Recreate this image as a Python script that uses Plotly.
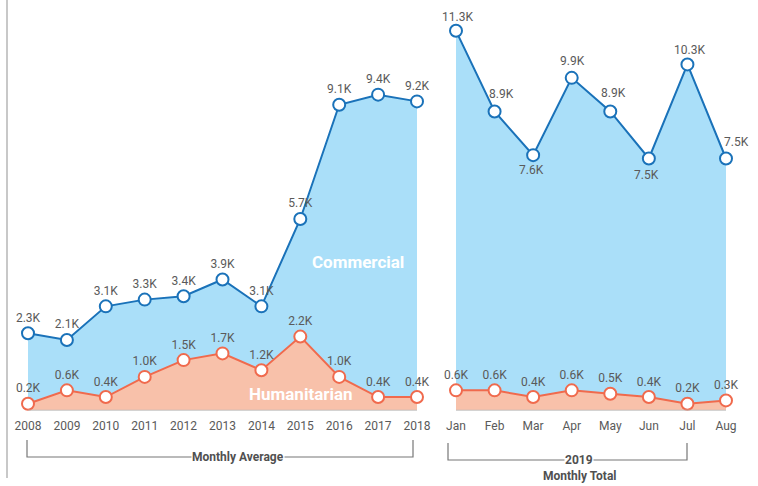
import plotly.graph_objects as go

W, H = 758, 486

years = ["2008", "2009", "2010", "2011", "2012", "2013", "2014", "2015", "2016", "2017", "2018"]
commercial_avg = [2.3, 2.1, 3.1, 3.3, 3.4, 3.9, 3.1, 5.7, 9.1, 9.4, 9.2]
humanitarian_avg = [0.2, 0.6, 0.4, 1.0, 1.5, 1.7, 1.2, 2.2, 1.0, 0.4, 0.4]

months = ["Jan", "Feb", "Mar", "Apr", "May", "Jun", "Jul", "Aug"]
commercial_2019 = [11.3, 8.9, 7.6, 9.9, 8.9, 7.5, 10.3, 7.5]
humanitarian_2019 = [0.6, 0.6, 0.4, 0.6, 0.5, 0.4, 0.2, 0.3]

# label offsets (px) for the 2019 commercial values: (xshift, yshift)
label_shift_2019 = [(1, 14), (7, 17), (-2, -15), (1, 17), (3, 18), (-2, -17), (2, 14), (10, 16)]

BLUE_LINE = "#1a72b9"
BLUE_FILL = "#aadff9"
ORANGE_LINE = "#f06a4d"
ORANGE_FILL = "#f8c1aa"
TEXT = "#5a5a5a"
FONT = "Roboto"


def px(x):
    return x / W


def py(y):
    return 1 - y / H


def fmt(vals):
    return [f"{v:.1f}K" for v in vals]


fig = go.Figure()


def add_series(x, y, xa, ya, line, fill, show_text=True):
    fig.add_trace(go.Scatter(
        x=x, y=y, xaxis=xa, yaxis=ya,
        mode="lines+markers+text" if show_text else "lines+markers",
        fill="tozeroy", fillcolor=fill,
        line=dict(color=line, width=2),
        marker=dict(size=12, color="white", line=dict(color=line, width=2)),
        text=fmt(y) if show_text else None, textposition="top center",
        textfont=dict(family=FONT, size=12, color=TEXT),
        cliponaxis=False, showlegend=False, hoverinfo="skip",
    ))


xl = list(range(len(years)))
xr = list(range(len(months)))
add_series(xl, commercial_avg, "x", "y", BLUE_LINE, BLUE_FILL)
add_series(xl, humanitarian_avg, "x", "y", ORANGE_LINE, ORANGE_FILL)
add_series(xr, commercial_2019, "x2", "y2", BLUE_LINE, BLUE_FILL, show_text=False)
add_series(xr, humanitarian_2019, "x2", "y2", ORANGE_LINE, ORANGE_FILL)

y_base, y_scale = 410.5, 33.6
y_top = 12
ydom = [py(y_base), py(y_base - y_top * y_scale)]

lx0, lx1 = 28, 417
ls = (lx1 - lx0) / (len(years) - 1)
rx0, rx1 = 456, 726
rs = (rx1 - rx0) / (len(months) - 1)

axis_common = dict(showgrid=False, zeroline=False, showline=False, ticks="",
                   ticklabelstandoff=6,
                   tickfont=dict(family=FONT, size=12, color=TEXT), fixedrange=True)

fig.update_layout(
    width=W, height=H, autosize=False,
    margin=dict(l=0, r=0, t=0, b=0),
    paper_bgcolor="white", plot_bgcolor="rgba(0,0,0,0)",
    xaxis=dict(domain=[px(lx0 - 0.5 * ls), px(lx1 + 0.5 * ls)], range=[-0.5, len(years) - 0.5],
               tickmode="array", tickvals=xl, ticktext=years, **axis_common),
    yaxis=dict(domain=ydom, range=[0, y_top], visible=False, fixedrange=True),
    xaxis2=dict(domain=[px(rx0 - 0.4 * rs), px(rx1 + 0.4 * rs)], range=[-0.4, len(months) - 0.6],
                tickmode="array", tickvals=xr, ticktext=months, anchor="y2", **axis_common),
    yaxis2=dict(domain=ydom, range=[0, y_top], visible=False, anchor="x2", fixedrange=True),
)

shapes = []
# baselines
shapes.append(dict(type="line", xref="x", yref="y", x0=0, x1=len(years) - 1, y0=0, y1=0,
                   line=dict(color="#bbbbbb", width=1.5)))
shapes.append(dict(type="line", xref="x2", yref="y2", x0=0, x1=len(months) - 1, y0=0, y1=0,
                   line=dict(color="#bbbbbb", width=1.5)))
# left vertical divider
shapes.append(dict(type="line", xref="paper", yref="paper", x0=px(7), x1=px(7), y0=py(0), y1=py(478),
                   line=dict(color="#c8c8c8", width=2)))
BR = "#777777"
# left bracket
shapes.append(dict(type="path", xref="paper", yref="paper",
                   path=f"M {px(27)},{py(440)} L {px(27)},{py(457)} L {px(413)},{py(457)} L {px(413)},{py(440)}",
                   line=dict(color=BR, width=1.2)))
# right bracket
shapes.append(dict(type="path", xref="paper", yref="paper",
                   path=f"M {px(448)},{py(443)} L {px(448)},{py(460)} L {px(687)},{py(460)} L {px(687)},{py(443)}",
                   line=dict(color=BR, width=1.2)))
fig.update_layout(shapes=shapes)

ann = []
for i, (v, (dx, dy)) in enumerate(zip(commercial_2019, label_shift_2019)):
    ann.append(dict(xref="x2", yref="y2", x=xr[i], y=v, text=f"{v:.1f}K", showarrow=False,
                    xshift=dx, yshift=dy, xanchor="center", yanchor="middle",
                    font=dict(family=FONT, size=12, color=TEXT)))
ann.append(dict(xref="paper", yref="paper", x=px(238), y=py(457), text="<b>Monthly Average</b>",
                showarrow=False, font=dict(family=FONT, size=12, color="#505050"), bgcolor="white",
                borderpad=0, xanchor="center", yanchor="middle"))
ann.append(dict(xref="paper", yref="paper", x=px(579), y=py(460), text="<b>2019</b>",
                showarrow=False, font=dict(family=FONT, size=12, color="#505050"), bgcolor="white",
                borderpad=0, xanchor="center", yanchor="middle"))
ann.append(dict(xref="paper", yref="paper", x=px(580), y=py(476), text="<b>Monthly Total</b>",
                showarrow=False, font=dict(family=FONT, size=12, color="#505050"),
                xanchor="center", yanchor="middle"))
ann.append(dict(xref="paper", yref="paper", x=px(358), y=py(262), text="<b>Commercial</b>",
                showarrow=False, font=dict(family=FONT, size=17, color="white"),
                xanchor="center", yanchor="middle"))
ann.append(dict(xref="paper", yref="paper", x=px(301), y=py(394), text="<b>Humanitarian</b>",
                showarrow=False, font=dict(family=FONT, size=17, color="white"),
                xanchor="center", yanchor="middle"))
fig.update_layout(annotations=ann)

fig.write_html("out.html", config={"displayModeBar": False},
               post_script="document.body.style.margin='0';document.body.style.overflow='hidden';")
